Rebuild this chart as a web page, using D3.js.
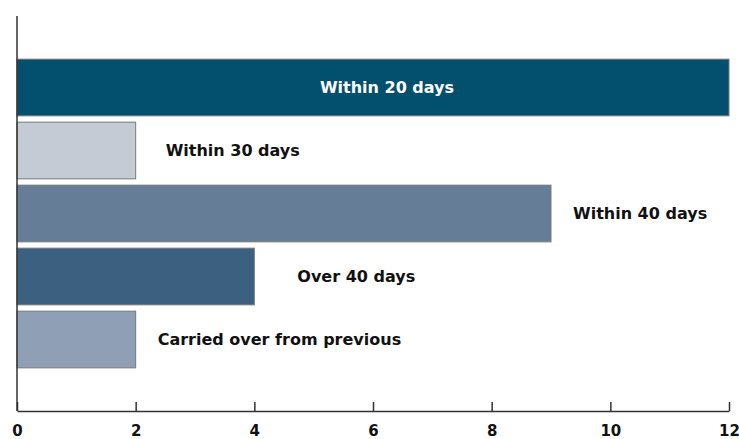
<!DOCTYPE html>
<html><head><meta charset="utf-8">
<script src="https://cdn.jsdelivr.net/npm/d3@7"></script>
<style>body{margin:0;background:#fff}svg{display:block}text{font-family:"DejaVu Sans",sans-serif;font-weight:700}</style>
</head><body><svg id="c" width="739" height="439"></svg>
<script>
const categories = ["Within 20 days","Within 30 days","Within 40 days","Over 40 days","Carried over from previous"];
const values = [12, 2, 9, 4, 2];
const colors = ["#02506d","#c5cbd5","#657d96","#3b6080","#8f9fb6"];
const tickValues = [0,2,4,6,8,10,12];
const labelInside = [true,false,false,false,false];
const labelOffsets = [0, 30, 22, 43, 22];

const svg = d3.select("#c");
const x = d3.scaleLinear().domain([0,12]).range([17,729]);
const y = d3.scaleBand().domain(categories).range([16,411]).paddingInner(0.1).paddingOuter(0.685);

svg.selectAll("rect.bar").data(categories).join("rect").attr("class","bar")
  .attr("x", x(0)).attr("y", d=>y(d))
  .attr("width", (d,i)=>x(values[i])-x(0)).attr("height", y.bandwidth())
  .attr("fill",(d,i)=>colors[i]).attr("stroke","#7a7a7a").attr("stroke-width",1);

svg.selectAll("text.lbl").data(categories).join("text").attr("class","lbl")
  .attr("x",(d,i)=>labelInside[i] ? (x(0)+x(values[i]))/2+14 : x(values[i])+labelOffsets[i])
  .attr("y",d=>y(d)+y.bandwidth()/2).attr("dy","0.36em")
  .attr("text-anchor",(d,i)=>labelInside[i]?"middle":"start")
  .attr("fill",(d,i)=>labelInside[i]?"#fff":"#111")
  .style("font-size","16px").text(d=>d);

const ax = svg.append("g").attr("transform","translate(0,411)")
  .call(d3.axisBottom(x).tickValues(tickValues).tickSize(-9).tickSizeOuter(0).tickPadding(0).tickFormat(d3.format("d")));
ax.select(".domain").attr("stroke","#333").attr("stroke-width",1.5);
ax.selectAll(".tick line").attr("stroke","#333").attr("stroke-width",1.5);
ax.selectAll(".tick text").attr("y",20).attr("dy","0.36em").attr("fill","#111").style("font-size","15px").style("font-family","'DejaVu Sans',sans-serif").style("font-weight","700");

svg.append("line").attr("x1",x(0)).attr("x2",x(0)).attr("y1",16).attr("y2",411).attr("stroke","#333").attr("stroke-width",1.5);
</script></body></html>
